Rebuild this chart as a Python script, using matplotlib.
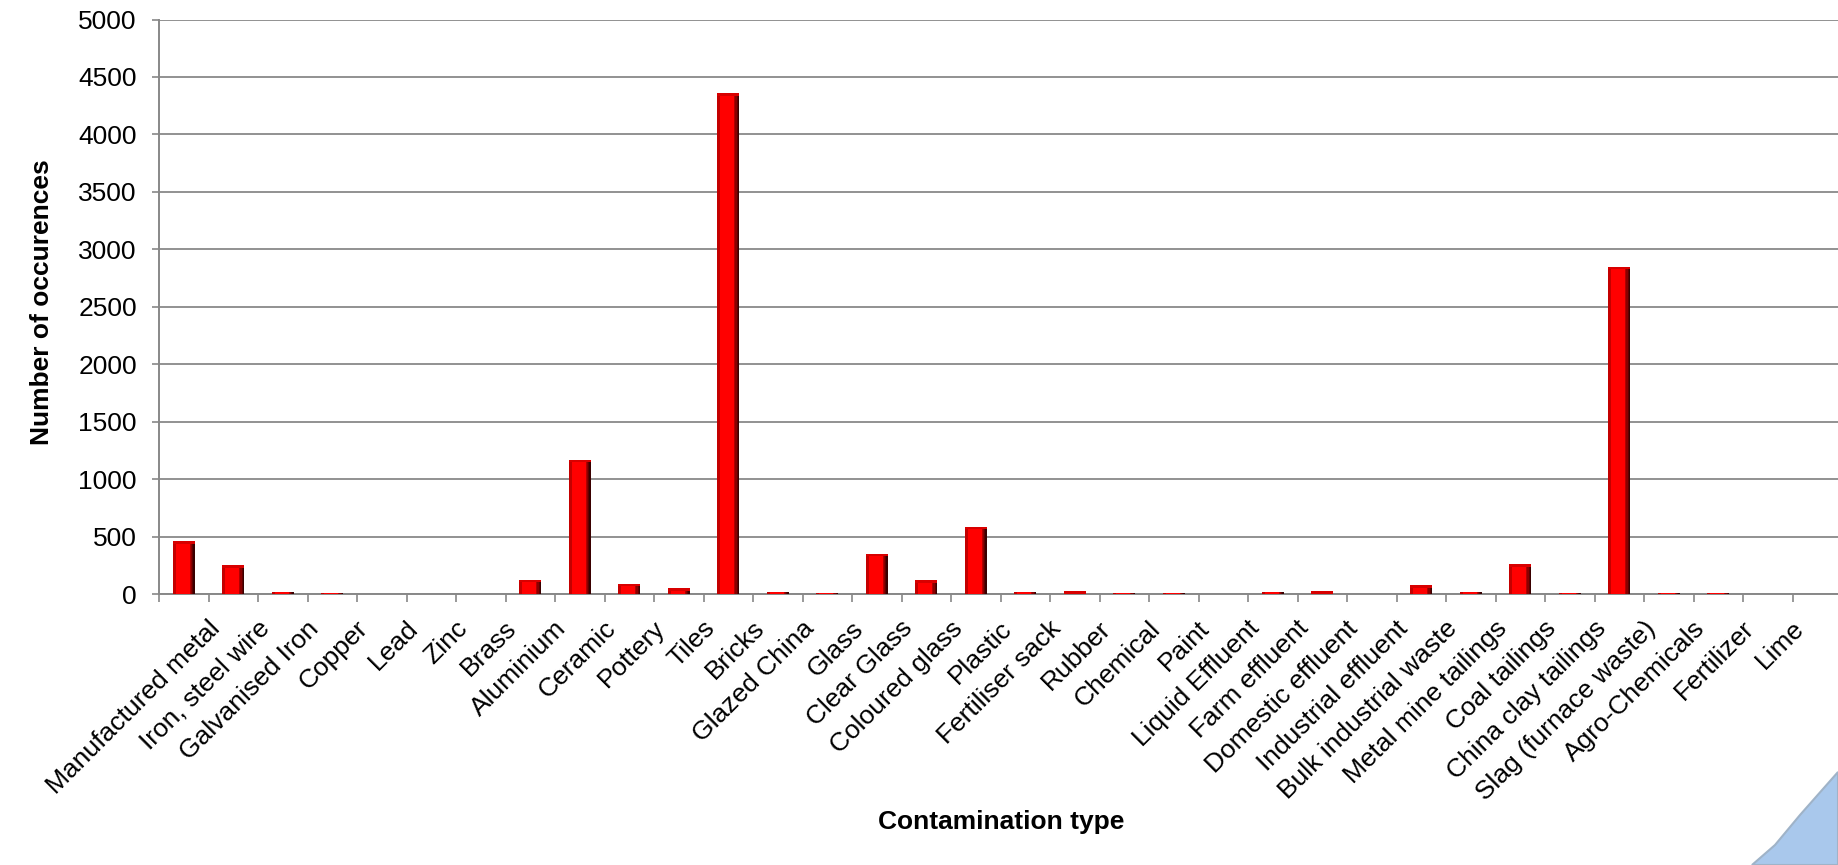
import numpy as np
import matplotlib.pyplot as plt
from matplotlib.patches import Polygon

plt.rcParams['font.family'] = ['Liberation Sans', 'DejaVu Sans']

# Contamination categories and number of occurences
categories = [
    "Manufactured metal", "Iron, steel wire", "Galvanised Iron", "Copper", "Lead",
    "Zinc", "Brass", "Aluminium", "Ceramic", "Pottery", "Tiles", "Bricks",
    "Glazed China", "Glass", "Clear Glass", "Coloured glass", "Plastic",
    "Fertiliser sack", "Rubber", "Chemical", "Paint", "Liquid Effluent",
    "Farm effluent", "Domestic effluent", "Industrial effluent",
    "Bulk industrial waste", "Metal mine tailings", "Coal tailings",
    "China clay tailings", "Slag (furnace waste)", "Agro-Chemicals",
    "Fertilizer", "Lime", "",
]
counts = [
    460, 250, 20, 12, 0,
    0, 0, 125, 1170, 88, 48, 4360,
    20, 12, 350, 118, 585,
    17, 23, 11, 12, 0,
    20, 23, 0,
    78, 15, 258,
    10, 2850, 12,
    8, 0, 0,
]
yticks = [0, 500, 1000, 1500, 2000, 2500, 3000, 3500, 4000, 4500, 5000]

W, H = 1838, 865
fig = plt.figure(figsize=(W / 100, H / 100), dpi=100)
ax = fig.add_axes([159 / W, 1 - 594 / H, 1683 / W, 574.5 / H])

x = np.arange(len(categories)) + 0.5
vals = np.array(counts, dtype=float)
bw = 0.44

# bar body with a shaded left and right side to give a bevelled look
ax.bar(x, vals, width=bw, color="#ff0000", zorder=3)
ax.bar(x - bw / 2 + 0.03, vals, width=0.06, color="#c40000", zorder=4)
shades = ["#b00000", "#8a0000", "#600000", "#3a0000"]
for k, c in enumerate(shades):
    ax.bar(x + bw / 2 - 0.1 + k * 0.025 + 0.0125, vals, width=0.025, color=c, zorder=4)
cap = 22
tall = vals > cap
ax.bar(x[tall], np.full(tall.sum(), cap), bottom=vals[tall] - cap, width=bw,
       color="#d80000", zorder=5)

ax.set_xlim(0, len(categories))
ax.set_ylim(0, 5000)
ax.set_yticks(yticks)
ax.set_yticklabels([str(t) for t in yticks])

# labels sit under each category, tick marks sit between categories
ax.set_xticks(x + 0.48)
ax.set_xticklabels(categories, rotation=45, ha="right", va="top",
                   rotation_mode="anchor")
ax.set_xticks(np.arange(len(categories) + 1), minor=True)
ax.tick_params(axis="x", which="major", length=0, pad=16, labelsize=19)
ax.tick_params(axis="x", which="minor", length=5.5, width=1.2, color="#888888")
ax.tick_params(axis="y", length=5, width=1.2, color="#888888", pad=11, labelsize=19)

ax.grid(axis="y", color="#929292", linewidth=1.4, zorder=0)
ax.set_axisbelow(True)
for side in ["top", "right"]:
    ax.spines[side].set_visible(False)
for side in ["left", "bottom"]:
    ax.spines[side].set_color("#888888")
    ax.spines[side].set_linewidth(1.4)
    ax.spines[side].set_zorder(2)

fig.text(42 / W, 1 - 302 / H, "Number of occurences", rotation=90,
         ha="center", va="center", fontsize=19, fontweight="bold")
fig.text(1001 / W, 1 - 822 / H, "Contamination type", ha="center", va="center",
         fontsize=19, fontweight="bold")

# light blue corner shape
corner = Polygon(
    [(1752 / W, 0), (1775 / W, 1 - 845 / H), (1800 / W, 1 - 815 / H),
     (1838 / W, 1 - 772 / H), (1.0, 0)],
    closed=True, transform=fig.transFigure, facecolor="#a9c8ec",
    edgecolor="#9fb3c8", linewidth=1.5)
fig.patches.append(corner)

fig.savefig("out.png", dpi=100)
